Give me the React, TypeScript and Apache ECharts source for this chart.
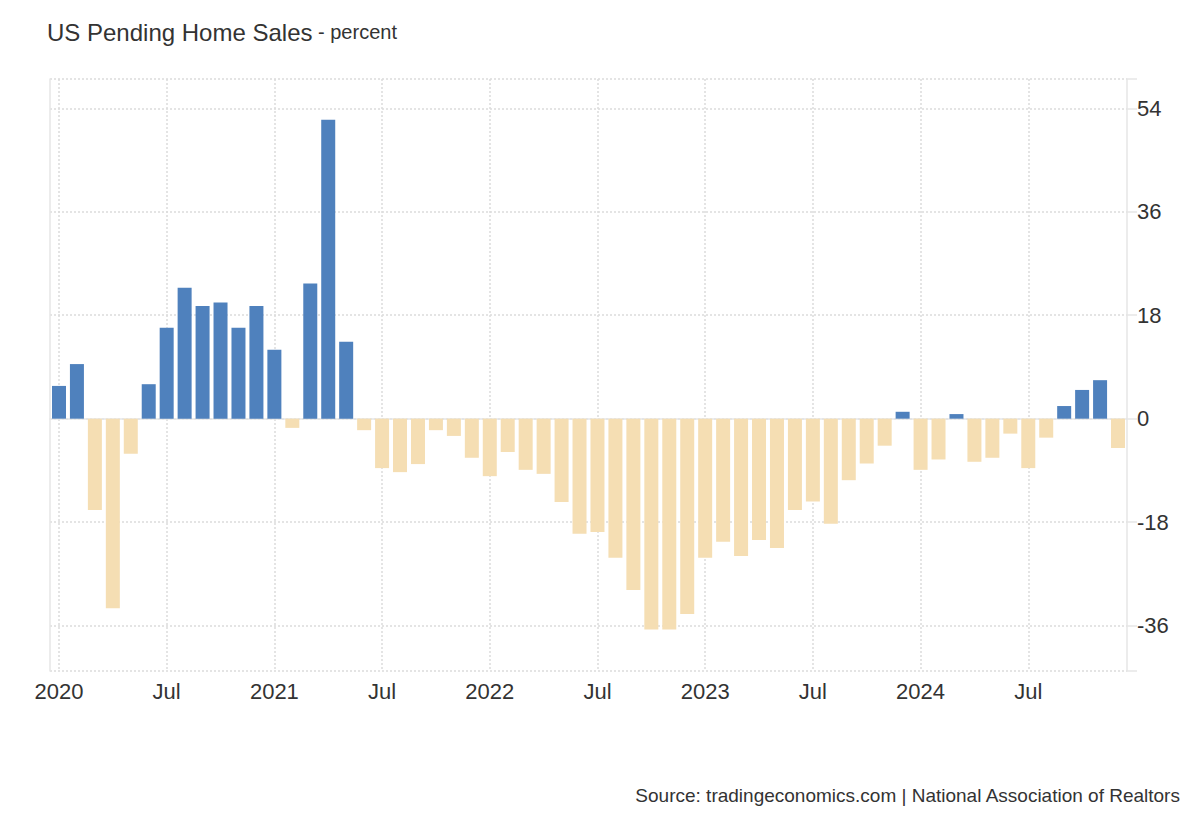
import { useEffect, useRef } from 'react';
import * as echarts from 'echarts';

// monthly, Jan 2020 .. Dec 2024
const months = [
    '2020-01', '2020-02', '2020-03', '2020-04', '2020-05', '2020-06',
    '2020-07', '2020-08', '2020-09', '2020-10', '2020-11', '2020-12',
    '2021-01', '2021-02', '2021-03', '2021-04', '2021-05', '2021-06',
    '2021-07', '2021-08', '2021-09', '2021-10', '2021-11', '2021-12',
    '2022-01', '2022-02', '2022-03', '2022-04', '2022-05', '2022-06',
    '2022-07', '2022-08', '2022-09', '2022-10', '2022-11', '2022-12',
    '2023-01', '2023-02', '2023-03', '2023-04', '2023-05', '2023-06',
    '2023-07', '2023-08', '2023-09', '2023-10', '2023-11', '2023-12',
    '2024-01', '2024-02', '2024-03', '2024-04', '2024-05', '2024-06',
    '2024-07', '2024-08', '2024-09', '2024-10', '2024-11', '2024-12'
];

// year-over-year change, percent
const pendingSalesYoY = [
    5.7, 9.5, -15.9, -33.0, -6.1, 6.0, 15.8, 22.8, 19.6, 20.2, 15.8, 19.6,
    12.0, -1.6, 23.5, 52.0, 13.4, -2.0, -8.6, -9.3, -7.9, -2.0, -3.0, -6.8,
    -10.0, -5.8, -8.9, -9.6, -14.5, -20.0, -19.7, -24.2, -29.8, -36.7, -36.7, -34.0,
    -24.2, -21.4, -23.9, -21.1, -22.5, -15.9, -14.4, -18.3, -10.7, -7.8, -4.7, 1.2,
    -8.9, -7.1, 0.8, -7.5, -6.8, -2.6, -8.6, -3.3, 2.2, 5.0, 6.7, -5.1
];

const yTickLabels = [-36, -18, 0, 18, 36, 54];
const yMin = -43.9;
const yMax = 59.1;

const FONT = '"Liberation Sans", Arial, sans-serif';
const TEXT = '#333333';
const UP = '#4f81bd';
const DOWN = '#f5deb3';
const AXIS = '#e6e6e6';
const GRID = '#dcdcdc';

const gridLine = { color: GRID, type: [2, 2] as number[], width: 1.5 };

const App = () => {
    const chartRef = useRef<HTMLDivElement>(null);

    useEffect(() => {
        if (!chartRef.current) return;
        const chart = echarts.init(chartRef.current, null, { renderer: 'svg' });

        const option: echarts.EChartsOption = {
            animation: false,
            backgroundColor: '#ffffff',
            textStyle: { fontFamily: FONT },
            title: [
                {
                    text: '{a|US Pending Home Sales}{b| - percent}',
                    left: 42,
                    top: 15,
                    textStyle: {
                        fontWeight: 'normal',
                        rich: {
                            a: { fontSize: 24, color: TEXT, fontFamily: FONT, fontWeight: 'normal' },
                            b: { fontSize: 20, color: TEXT, fontFamily: FONT, fontWeight: 'normal' }
                        }
                    }
                },
                {
                    text: 'Source: tradingeconomics.com | National Association of Realtors',
                    right: 14,
                    top: 781,
                    textStyle: { fontSize: 19, fontWeight: 'normal', color: TEXT, fontFamily: FONT }
                }
            ],
            grid: { left: 50, right: 73, top: 79, bottom: 149, containLabel: false },
            xAxis: {
                type: 'category',
                data: months,
                boundaryGap: true,
                axisLine: { show: true, lineStyle: { color: AXIS, width: 1.5 } },
                axisTick: { show: false },
                axisLabel: {
                    interval: (i: number) => i % 6 === 0,
                    margin: 9,
                    fontSize: 22,
                    color: TEXT,
                    fontFamily: FONT,
                    formatter: (v: string) => (v.endsWith('-01') ? v.slice(0, 4) : 'Jul')
                },
                splitLine: {
                    show: true,
                    interval: (i: number) => i % 6 === 0,
                    alignWithLabel: true,
                    lineStyle: gridLine
                } as any
            },
            yAxis: [
                {
                    type: 'value',
                    position: 'right',
                    min: yMin,
                    max: yMax,
                    axisLine: { show: true, lineStyle: { color: AXIS, width: 1.5 } },
                    axisTick: {
                        show: true,
                        inside: false,
                        length: 10,
                        customValues: [yMin, ...yTickLabels, yMax],
                        lineStyle: { color: AXIS, width: 1.5 }
                    } as any,
                    axisLabel: {
                        customValues: yTickLabels,
                        margin: 10,
                        fontSize: 22,
                        color: TEXT,
                        fontFamily: FONT
                    } as any,
                    splitLine: { show: true, lineStyle: gridLine } as any
                },
                {
                    type: 'value',
                    position: 'left',
                    min: yMin,
                    max: yMax,
                    axisLine: { show: true, lineStyle: { color: AXIS, width: 1.5 } },
                    axisTick: { show: false },
                    axisLabel: { show: false },
                    splitLine: { show: false }
                }
            ],
            series: [
                {
                    type: 'bar',
                    yAxisIndex: 0,
                    barWidth: 14,
                    data: pendingSalesYoY,
                    itemStyle: {
                        color: (p: any) => (p.value >= 0 ? UP : DOWN)
                    }
                }
            ]
        };

        chart.setOption(option);
        return () => chart.dispose();
    }, []);

    return (
        <div
            ref={chartRef}
            style={{ position: 'absolute', left: 0, top: 0, width: 1200, height: 820 }}
        />
    );
};

export default App;
